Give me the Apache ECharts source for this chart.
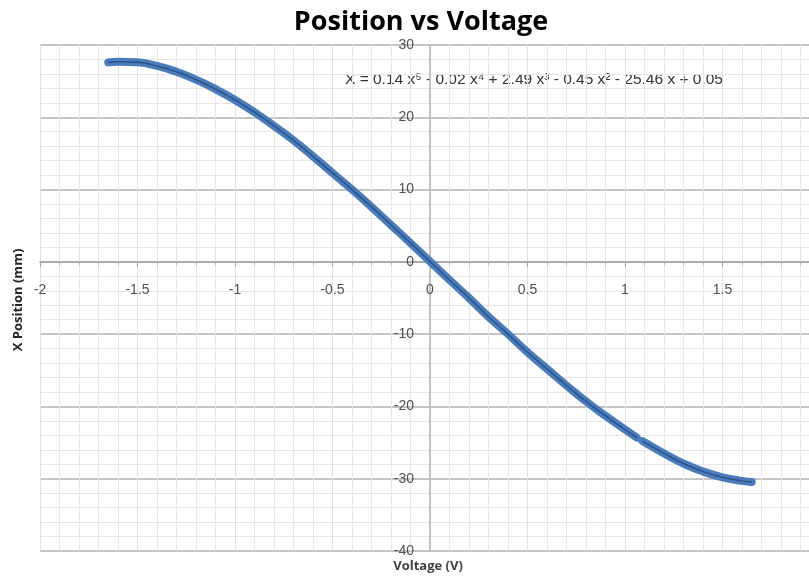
<!DOCTYPE html>
<html>
<head>
<meta charset="utf-8">
<script src="https://cdn.jsdelivr.net/npm/echarts@6/dist/echarts.min.js"></script>
<style>html,body{margin:0;padding:0;background:#fff}#c{width:809px;height:577px}</style>
</head>
<body>
<div id="c"></div>
<script>
var chartTitle = "Position vs Voltage";
var xAxisTitle = "Voltage (V)";
var yAxisTitle = "X Position (mm)";
var equationText = "X = 0.14 x\u2075 - 0.02 x\u2074 + 2.49 x\u00B3 - 0.45 x\u00B2 - 25.46 x + 0.05";

// voltage readings (V) and position readings (mm)
var voltage = [-1.65,-1.6,-1.5,-1.4,-1.3,-1.2,-1.1,-1.0,-0.9,-0.8,-0.7,-0.6,-0.5,-0.4,-0.3,-0.2,-0.1,0.0,
               0.1,0.2,0.3,0.4,0.5,0.6,0.7,0.8,0.9,1.0,1.06,
               1.09,1.2,1.3,1.4,1.5,1.6,1.65];
var position = [27.6,27.7,27.6,27.1,26.3,25.2,23.9,22.4,20.7,18.8,16.8,14.6,12.3,10.0,7.6,5.1,2.6,0.05,
                -2.5,-5.0,-7.6,-10.0,-12.5,-14.8,-17.1,-19.3,-21.3,-23.2,-24.3,
                -24.8,-26.5,-27.9,-29.0,-29.8,-30.3,-30.45];
// the trace has a small gap between these two readings
var gapAfter = 1.06;

var pts = [];
for (var i = 0; i < voltage.length; i++) {
  pts.push([voltage[i], position[i]]);
  if (voltage[i] === gapAfter) pts.push(['-', '-']);
}

var X_MIN = -2, X_MAX = 2, Y_MIN = -40, Y_MAX = 30;
var G_LEFT = 40, G_TOP = 45, G_W = 780, G_H = 506;
// place the axes where the other axis is zero
var xAxisOffset = -(G_H * (0 - Y_MIN) / (Y_MAX - Y_MIN));
var yAxisOffset = -(G_W * (0 - X_MIN) / (X_MAX - X_MIN));

var chart = echarts.init(document.getElementById('c'));
var labelFont = {fontFamily: 'Liberation Sans', fontSize: 14, color: '#505050'};
chart.setOption({
  animation: false,
  grid: {left: G_LEFT, top: G_TOP, right: 809 - G_LEFT - G_W, bottom: 577 - G_TOP - G_H,
         containLabel: false, outerBoundsMode: 'none'},
  xAxis: {
    type: 'value', min: X_MIN, max: X_MAX, interval: 0.5, position: 'bottom', offset: xAxisOffset,
    axisLine: {onZero: false, lineStyle: {color: '#a0a0a0', width: 1.5}},
    axisTick: {show: true, length: 5, lineStyle: {color: '#a0a0a0'}},
    minorTick: {show: true, splitNumber: 5, length: 3, lineStyle: {color: '#b0b0b0'}},
    axisLabel: Object.assign({margin: 21}, labelFont),
    splitLine: {show: true, lineStyle: {color: '#e2e2e2', width: 1}},
    minorSplitLine: {show: true, lineStyle: {color: '#e6e6e6', width: 1}}
  },
  yAxis: {
    type: 'value', min: Y_MIN, max: Y_MAX, interval: 10, position: 'left', offset: yAxisOffset,
    axisLine: {onZero: false, lineStyle: {color: '#b4b4b4', width: 1.5}},
    axisTick: {show: false},
    axisLabel: Object.assign({margin: 16}, labelFont),
    splitLine: {show: true, lineStyle: {color: '#c4c4c4', width: 2}},
    minorTick: {show: false, splitNumber: 5},
    minorSplitLine: {show: true, lineStyle: {color: '#e6e6e6', width: 1}}
  },
  graphic: [
    {type: 'text', x: 421, y: 22, style: {text: chartTitle, font: 'bold 27px "Open Sans"', fill: '#000', align: 'center', verticalAlign: 'middle'}},
    {type: 'text', x: 345, y: 80, style: {text: equationText, font: '15.5px "Liberation Sans"', fill: '#333333', verticalAlign: 'middle'}},
    {type: 'text', x: 428, y: 566, style: {text: xAxisTitle, font: 'bold 13px "Open Sans"', fill: '#404040', align: 'center', verticalAlign: 'middle'}},
    {type: 'text', x: 18, y: 300, rotation: Math.PI / 2, style: {text: yAxisTitle, font: 'bold 13px "Open Sans"', fill: '#262626', align: 'center', verticalAlign: 'middle'}}
  ],
  series: [
    {type: 'line', data: pts, showSymbol: false, smooth: true, connectNulls: false,
     lineStyle: {color: '#4a7cbc', width: 8, cap: 'round', join: 'round'}, z: 3},
    {type: 'line', data: pts, showSymbol: false, smooth: true, connectNulls: false,
     lineStyle: {color: '#2c5287', width: 1.5}, z: 4}
  ]
});
</script>
</body>
</html>
